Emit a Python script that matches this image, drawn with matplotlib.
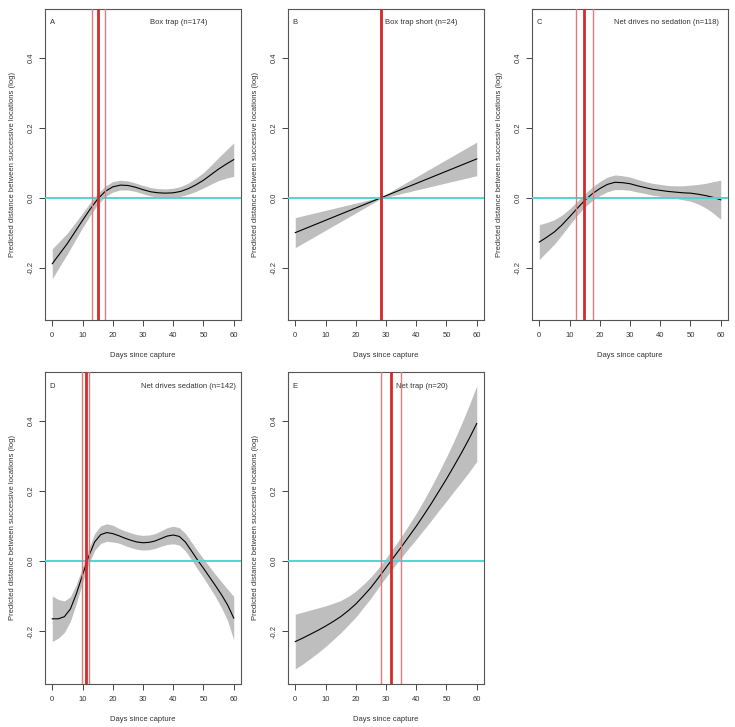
import matplotlib
matplotlib.use("Agg")
import matplotlib.pyplot as plt
import numpy as np

plt.rcParams['font.family'] = ['Liberation Sans', 'DejaVu Sans']

# ---------------- data ----------------
panel_letters = ["A", "B", "C", "D", "E"]
panel_titles = ["Box trap (n=174)", "Box trap short (n=24)",
                "Net drives no sedation (n=118)", "Net drives sedation (n=142)",
                "Net trap (n=20)"]

# Panel A
a_days = [0, 2.5, 5, 7.5, 10, 12.5, 15, 17.5, 20, 22.5, 25, 27.5, 30, 32.5, 35,
          37.5, 40, 42.5, 45, 47.5, 50, 52.5, 55, 57.5, 60]
a_fit = [-0.189, -0.160, -0.131, -0.098, -0.065, -0.033, -0.004, 0.018, 0.031, 0.036,
         0.035, 0.030, 0.023, 0.017, 0.014, 0.013, 0.014, 0.018, 0.026, 0.037,
         0.050, 0.066, 0.082, 0.096, 0.109]
a_se = [0.043, 0.036, 0.030, 0.025, 0.021, 0.018, 0.016, 0.015, 0.015, 0.014, 0.013,
        0.012, 0.012, 0.012, 0.012, 0.012, 0.013, 0.014, 0.016, 0.019, 0.022, 0.027,
        0.033, 0.040, 0.048]
a_vlines = [13.0, 15.0, 17.5]   # lower, estimate, upper

# Panel B
b_days = [0, 28.4, 60]
b_fit = [-0.100, 0.000, 0.111]
b_se = [0.043, 0.002, 0.048]
b_vlines = [28.4, 28.4, 28.4]

# Panel C
c_days = [0, 2.5, 5, 7.5, 10, 12.5, 15, 17.5, 20, 22.5, 25, 27.5, 30, 32.5, 35,
          37.5, 40, 42.5, 45, 47.5, 50, 52.5, 55, 57.5, 60]
c_fit = [-0.127, -0.113, -0.098, -0.078, -0.055, -0.031, -0.008, 0.011, 0.026, 0.038,
         0.044, 0.043, 0.040, 0.034, 0.029, 0.024, 0.021, 0.018, 0.016, 0.014,
         0.013, 0.010, 0.006, 0.001, -0.006]
c_se = [0.050, 0.042, 0.035, 0.028, 0.023, 0.020, 0.019, 0.019, 0.020, 0.021, 0.021,
        0.020, 0.019, 0.018, 0.017, 0.017, 0.017, 0.017, 0.018, 0.020, 0.023, 0.028,
        0.035, 0.045, 0.056]
c_vlines = [12.2, 14.7, 17.7]

# Panel D
d_days = [0, 2, 4, 6, 8, 10, 12, 14, 16, 18, 20, 22, 24, 26, 28, 30, 32, 34, 36, 38,
          40, 42, 44, 46, 48, 50, 52, 54, 56, 58, 60]
d_fit = [-0.164, -0.164, -0.158, -0.136, -0.092, -0.039, 0.013, 0.055, 0.076, 0.082,
         0.079, 0.073, 0.066, 0.060, 0.055, 0.053, 0.054, 0.058, 0.065, 0.072,
         0.075, 0.071, 0.055, 0.030, 0.004, -0.020, -0.045, -0.070, -0.096, -0.125,
         -0.162]
d_se = [0.065, 0.055, 0.045, 0.035, 0.027, 0.022, 0.022, 0.024, 0.025, 0.025, 0.024,
        0.021, 0.021, 0.021, 0.021, 0.021, 0.021, 0.021, 0.022, 0.024, 0.025, 0.025,
        0.025, 0.025, 0.026, 0.027, 0.029, 0.032, 0.037, 0.045, 0.062]
d_vlines = [9.9, 11.0, 12.1]

# Panel E
e_days = [0, 2.5, 5, 7.5, 10, 12.5, 15, 17.5, 20, 22.5, 25, 27.5, 30, 32.5, 35,
          37.5, 40, 42.5, 45, 47.5, 50, 52.5, 55, 57.5, 60]
e_fit = [-0.229, -0.219, -0.208, -0.197, -0.185, -0.172, -0.158, -0.141, -0.122,
         -0.099, -0.075, -0.047, -0.018, 0.011, 0.040, 0.070, 0.100, 0.132, 0.165,
         0.200, 0.235, 0.272, 0.310, 0.350, 0.393]
e_se = [0.078, 0.074, 0.069, 0.064, 0.058, 0.052, 0.046, 0.041, 0.037, 0.033, 0.030,
        0.028, 0.027, 0.028, 0.030, 0.033, 0.037, 0.042, 0.048, 0.055, 0.063, 0.072,
        0.083, 0.095, 0.108]
e_vlines = [28.3, 31.6, 34.9]

x_ticks = [0, 10, 20, 30, 40, 50, 60]
y_ticks = [-0.2, 0.0, 0.2, 0.4]
x_label = "Days since capture"
y_label = "Predicted distance between successive locations (log)"

panels = [
    (a_days, a_fit, a_se, a_vlines),
    (b_days, b_fit, b_se, b_vlines),
    (c_days, c_fit, c_se, c_vlines),
    (d_days, d_fit, d_se, d_vlines),
    (e_days, e_fit, e_se, e_vlines),
]
title_x = [41.9, 41.5, 41.9, 45.0, 42.0]

# ---------------- layout ----------------
fig = plt.figure(figsize=(7.35, 7.27), dpi=100)
W, H = 735.0, 727.0
lefts = [45, 288, 532]
rows = [(9, 320), (372, 684)]
positions = [
    (lefts[0], rows[0]), (lefts[1], rows[0]), (lefts[2], rows[0]),
    (lefts[0], rows[1]), (lefts[1], rows[1]),
]
aw = 196

txt_col = "#333333"
fs = 5.5

for i, (days, fit, se, vl) in enumerate(panels):
    lx, (top, bot) = positions[i]
    ax = fig.add_axes([lx / W, 1 - bot / H, aw / W, (bot - top) / H])
    days = np.asarray(days); fit = np.asarray(fit); se = np.asarray(se)
    ax.fill_between(days, fit - se, fit + se, color="#bebebe", lw=0, zorder=1)
    ax.plot(days, fit, color="black", lw=0.8, zorder=2)
    ax.axhline(0, color="#4fd6d0", lw=1.4, zorder=3)
    ax.axvline(vl[0], color="#e07c7c", lw=1.0, zorder=4)
    ax.axvline(vl[2], color="#e07c7c", lw=1.0, zorder=4)
    ax.axvline(vl[1], color="#d42a2a", lw=2.0, zorder=5)

    ax.set_xlim(-2.4, 62.4)
    ax.set_ylim(-0.35, 0.54)
    ax.set_xticks(x_ticks)
    ax.set_yticks(y_ticks)
    ax.set_yticklabels(["%.1f" % v for v in y_ticks], rotation=90, va="center")
    ax.tick_params(axis="x", pad=4.5)
    ax.tick_params(axis="y", pad=3.5)
    ax.tick_params(direction="out", length=4, width=0.7, labelsize=fs,
                   colors="#444444", labelcolor=txt_col)
    for s in ax.spines.values():
        s.set_color("#555555")
        s.set_linewidth(0.8)
    ax.set_xlabel(x_label, fontsize=fs, color=txt_col, labelpad=9.5)
    ax.set_ylabel(y_label, fontsize=fs, color=txt_col, labelpad=8)
    ax.text(0, 0.50, panel_letters[i], fontsize=fs, color=txt_col,
            ha="center", va="center")
    ax.text(title_x[i], 0.50, panel_titles[i], fontsize=fs, color=txt_col,
            ha="center", va="center")

fig.savefig("out.png", dpi=100)
